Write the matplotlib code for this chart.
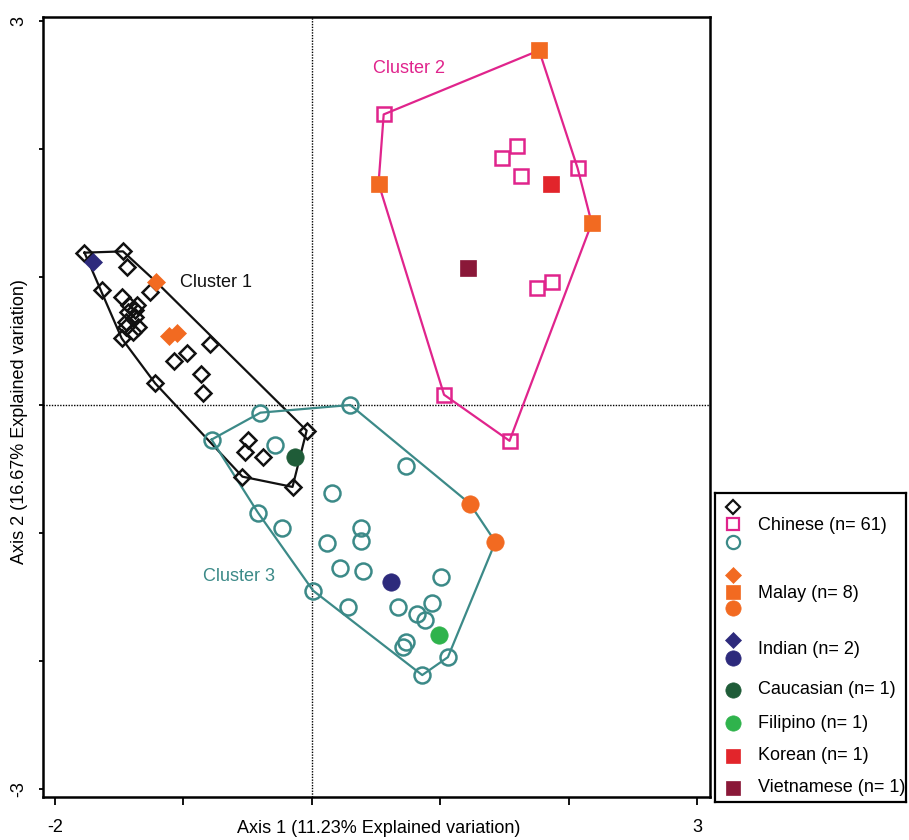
import matplotlib
matplotlib.use("Agg")
import matplotlib.pyplot as plt
import numpy as np

plt.rcParams['font.family'] = ['Liberation Sans', 'DejaVu Sans']

# PCoA coordinates (Axis 1, Axis 2), grouped by cluster and ethnicity
# Cluster 1 (diamonds)
c1_chinese = [(-1.77, 1.19), (-1.47, 1.20), (-1.44, 1.08), (-1.26, 0.88), (-1.63, 0.90),
              (-1.48, 0.84), (-1.42, 0.78), (-1.36, 0.78), (-1.43, 0.73), (-1.38, 0.69),
              (-1.45, 0.65), (-1.35, 0.61), (-1.39, 0.57), (-1.48, 0.52), (-0.79, 0.48),
              (-0.97, 0.41), (-1.07, 0.34), (-0.86, 0.24), (-0.85, 0.09), (-1.22, 0.17),
              (-0.04, -0.20), (-0.50, -0.27), (-0.52, -0.37), (-0.38, -0.41), (-0.54, -0.56),
              (-0.15, -0.64), (-1.38, 0.74), (-1.45, 0.61)]
c1_malay = [(-1.21, 0.96), (-1.11, 0.54), (-1.05, 0.56)]
c1_indian = [(-1.70, 1.12)]

# Cluster 2 (squares)
c2_chinese = [(0.56, 2.27), (1.60, 2.02), (1.48, 1.93), (1.63, 1.79), (2.07, 1.85),
              (1.87, 0.96), (1.75, 0.91), (1.03, 0.08), (1.54, -0.28)]
c2_malay = [(1.77, 2.77), (0.52, 1.73), (2.18, 1.42)]
c2_korean = [(1.86, 1.73)]
c2_vietnamese = [(1.22, 1.07)]

# Cluster 3 (circles)
c3_chinese = [(0.30, 0.00), (-0.40, -0.06), (-0.78, -0.27), (-0.29, -0.31), (0.73, -0.48),
              (0.16, -0.69), (-0.42, -0.84), (-0.23, -0.96), (0.38, -0.96), (0.38, -1.06),
              (0.12, -1.08), (0.22, -1.27), (0.40, -1.30), (1.01, -1.34), (0.01, -1.45),
              (0.28, -1.58), (0.67, -1.58), (0.94, -1.55), (0.82, -1.63), (0.88, -1.68),
              (0.73, -1.85), (0.71, -1.89), (1.06, -1.97), (0.86, -2.11)]
c3_malay = [(1.23, -0.77), (1.43, -1.07)]
c3_indian = [(0.62, -1.38)]
c3_caucasian = [(-0.13, -0.41)]
c3_filipino = [(0.99, -1.80)]

legend_labels = ["Chinese (n= 61)", "Malay (n= 8)", "Indian (n= 2)", "Caucasian (n= 1)",
                 "Filipino (n= 1)", "Korean (n= 1)", "Vietnamese (n= 1)"]

BLACK = "#111111"
MAGENTA = "#e0248c"
TEAL = "#3c8a88"
ORANGE = "#f26a21"
NAVY = "#2d2a7c"
DKGREEN = "#1f5c38"
GREEN = "#2fb34c"
RED = "#e2252b"
MAROON = "#8a1838"


def hull(points):
    # monotone chain convex hull
    pts = sorted(set(points))
    def cross(o, a, b):
        return (a[0] - o[0]) * (b[1] - o[1]) - (a[1] - o[1]) * (b[0] - o[0])
    lower, upper = [], []
    for p in pts:
        while len(lower) >= 2 and cross(lower[-2], lower[-1], p) <= 0:
            lower.pop()
        lower.append(p)
    for p in reversed(pts):
        while len(upper) >= 2 and cross(upper[-2], upper[-1], p) <= 0:
            upper.pop()
        upper.append(p)
    h = lower[:-1] + upper[:-1]
    return np.array(h + [h[0]])


fig = plt.figure(figsize=(9.09, 8.4), dpi=100)
ax = fig.add_axes([43 / 909, 43 / 840, 667 / 909, 780 / 840])

ax.axvline(0, color="k", ls=(0, (1, 1)), lw=1.0, zorder=1)
ax.axhline(0, color="k", ls=(0, (1, 1)), lw=1.0, zorder=1)

clusters = [
    (c1_chinese + c1_malay + c1_indian, BLACK),
    (c2_chinese + c2_malay + c2_korean + c2_vietnamese, MAGENTA),
    (c3_chinese + c3_malay + c3_indian + c3_caucasian + c3_filipino, TEAL),
]
for pts, col in clusters:
    h = hull(pts)
    ax.plot(h[:, 0], h[:, 1], color=col, lw=1.6, zorder=2)


def scatter(pts, marker, ms, fc, ec, mew=1.8, z=3):
    a = np.array(pts)
    ax.plot(a[:, 0], a[:, 1], ls="none", marker=marker, ms=ms, mfc=fc, mec=ec, mew=mew, zorder=z)


scatter(c1_chinese, "D", 8.3, "none", BLACK)
scatter(c2_chinese, "s", 10, "none", MAGENTA)
scatter(c3_chinese, "o", 11.5, "none", TEAL)
scatter(c1_malay, "D", 9, ORANGE, ORANGE, 0.5, 4)
scatter(c2_malay, "s", 11, ORANGE, ORANGE, 0.5, 4)
scatter(c3_malay, "o", 12.5, ORANGE, ORANGE, 0.5, 4)
scatter(c1_indian, "D", 9, NAVY, NAVY, 0.5, 4)
scatter(c3_indian, "o", 12.5, NAVY, NAVY, 0.5, 4)
scatter(c3_caucasian, "o", 12.5, DKGREEN, DKGREEN, 0.5, 4)
scatter(c3_filipino, "o", 12.5, GREEN, GREEN, 0.5, 4)
scatter(c2_korean, "s", 11, RED, RED, 0.5, 4)
scatter(c2_vietnamese, "s", 11, MAROON, MAROON, 0.5, 4)

ax.text(-1.03, 0.96, "Cluster 1", color=BLACK, fontsize=13, va="center", ha="left")
ax.text(0.48, 2.63, "Cluster 2", color=MAGENTA, fontsize=13, va="center", ha="left")
ax.text(-0.85, -1.34, "Cluster 3", color=TEAL, fontsize=13, va="center", ha="left")

ax.set_xlim(-2.093, 3.101)
ax.set_ylim(-3.0625, 3.031)
ax.set_xticks(np.arange(-2, 4))
ax.set_xticklabels(["-2", "", "", "", "", "3"])
ax.set_yticks(np.arange(-3, 4))
ax.set_yticklabels(["-3", "", "", "", "", "", "3"], rotation=90, va="center")
ax.tick_params(axis="x", direction="out", length=6, width=1.3, pad=10, labelsize=13)
ax.tick_params(axis="y", direction="out", length=3, width=1.3, pad=8, labelsize=13)
for s in ax.spines.values():
    s.set_linewidth(1.8)

ax.set_xlabel("Axis 1 (11.23% Explained variation)", fontsize=13)
ax.xaxis.set_label_coords(0.504, -0.029)
ax.set_ylabel("Axis 2 (16.67% Explained variation)", fontsize=13)
ax.yaxis.set_label_coords(-0.022, 0.481)

# legend box drawn by hand so that grouped symbols stack vertically
lg = fig.add_axes([715 / 909, 38 / 840, 191 / 909, 309 / 840])
lg.set_xlim(0, 191)
lg.set_ylim(309, 0)
lg.set_xticks([])
lg.set_yticks([])
for s in lg.spines.values():
    s.set_linewidth(1.6)

mx = 18
keys = [
    [("D", 7, "none", BLACK, 14), ("s", 9, "none", MAGENTA, 31), ("o", 9.5, "none", TEAL, 49)],
    [("D", 8, ORANGE, ORANGE, 82), ("s", 10, ORANGE, ORANGE, 99), ("o", 11, ORANGE, ORANGE, 115)],
    [("D", 8, NAVY, NAVY, 147), ("o", 11, NAVY, NAVY, 165)],
    [("o", 11, DKGREEN, DKGREEN, 197)],
    [("o", 11, GREEN, GREEN, 230)],
    [("s", 10, RED, RED, 263)],
    [("s", 10, MAROON, MAROON, 295)],
]
text_y = [32, 100, 157, 197, 230, 263, 295]
for group, label, ty in zip(keys, legend_labels, text_y):
    for m, ms, fc, ec, y in group:
        lg.plot([mx], [y], marker=m, ms=ms, mfc=fc, mec=ec, mew=1.6 if fc == "none" else 0.5, ls="none")
    lg.text(43, ty, label, fontsize=13, va="center", ha="left")

fig.savefig("out.png", dpi=100)
